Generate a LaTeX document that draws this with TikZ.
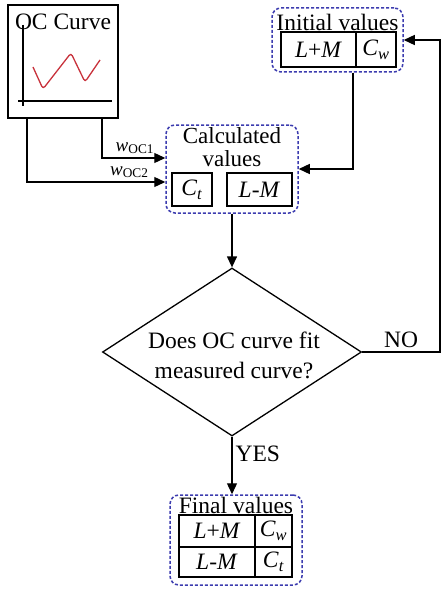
\documentclass[tikz,border=0pt]{standalone}
\usepackage{fontspec}
\setmainfont{Liberation Serif}
\usetikzlibrary{arrows.meta,shapes.geometric}
\definecolor{groupblue}{RGB}{60,60,175}
\definecolor{ocred}{RGB}{200,50,60}

\begin{document}
\begin{tikzpicture}[x=1pt, y=-1pt, line width=1.3pt,
    every node/.style={font=\fontsize{23.5}{28}\selectfont},
    cell/.style={draw, inner sep=0pt, minimum height=33pt},
    group/.style={draw=groupblue, line width=1.5pt, dash pattern=on 3pt off 2pt, rounded corners=9pt, inner sep=0pt},
    flow/.style={-{Triangle[length=11pt, width=10pt]}}]
        \useasboundingbox (0,0) rectangle (442,591);

        % OC curve panel
        \node[draw, inner sep=0pt, minimum width=110pt, minimum height=113pt] (ocbox) at (63,61.5) {};
        \node (octitle) at (63,21.5) {OC Curve};
        \draw (23,25) -- (23,106);
        \draw (18,101) -- (112,101);
        \draw[ocred, rounded corners=3pt] (33,67) -- (43,89) -- (71,53) -- (85,82) -- (100,60);

        % Initial values
        \node[group, minimum width=131pt, minimum height=64pt] (init) at (337.5,40) {};
        \node (inittitle) at (337.5,22) {Initial values};
        \node[cell, minimum width=75pt, minimum height=35pt] (initlpm) at (318.5,49.5) {\textit{L}+\textit{M}};
        \node[cell, minimum width=40pt, minimum height=35pt] (initcw) at (376,49.5) {\textit{C}\textsubscript{\textit{w}}};

        % Calculated values
        \node[group, minimum width=132pt, minimum height=88pt] (calc) at (232,169) {};
        \node[align=center, font=\fontsize{23}{23}\selectfont] (calctitle) at (232,147) {Calculated\\values};
        \node[cell, minimum width=40pt] (calcct) at (192,189.5) {\textit{C}\textsubscript{\textit{t}}};
        \node[cell, minimum width=65pt] (calclm) at (259.5,189.5) {\textit{L-M}};

        % Decision
        \node[draw, diamond, aspect=1.54, inner sep=0pt, minimum width=259pt, minimum height=168pt] (check) at (232,352) {};
        \node[align=center, font=\fontsize{23.5}{30}\selectfont] (checktext) at (234,355) {Does OC curve fit\\measured curve?};

        % Final values
        \node[group, minimum width=132pt, minimum height=90pt] (final) at (236,540) {};
        \node (finaltitle) at (236,505) {Final values};
        \node[cell, minimum width=76pt, minimum height=32pt] (finallpm) at (217,531) {\textit{L}+\textit{M}};
        \node[cell, minimum width=37pt, minimum height=32pt] (finalcw) at (273.5,531) {\textit{C}\textsubscript{\textit{w}}};
        \node[cell, minimum width=76pt, minimum height=30pt] (finallm) at (217,562) {\textit{L-M}};
        \node[cell, minimum width=37pt, minimum height=30pt] (finalct) at (273.5,562) {\textit{C}\textsubscript{\textit{t}}};

        % Connectors
        \coordinate (noturn) at (440,352);
        \draw[flow] ([xshift=39pt]ocbox.south) |- ([yshift=11pt]calc.west)
            node[pos=0.76, above, font=\fontsize{19}{22}\selectfont] {\textit{w}\textsubscript{OC1}};
        \draw[flow] ([xshift=-36pt]ocbox.south) |- ([yshift=-13pt]calc.west)
            node[pos=0.87, above, font=\fontsize{19}{22}\selectfont] {\textit{w}\textsubscript{OC2}};
        \draw[flow] ([xshift=15.5pt]init.south) |- (calc.east);
        \draw[flow] (calc.south) -- (check.north);
        \draw[flow] (check.south) -- (check.south |- final.north) node[pos=0.3, right, inner sep=3pt] {YES};
        \draw[flow] (check.east) -- (noturn) node[midway, above] {NO} |- (init.east);
    \end{tikzpicture}
\end{document}
